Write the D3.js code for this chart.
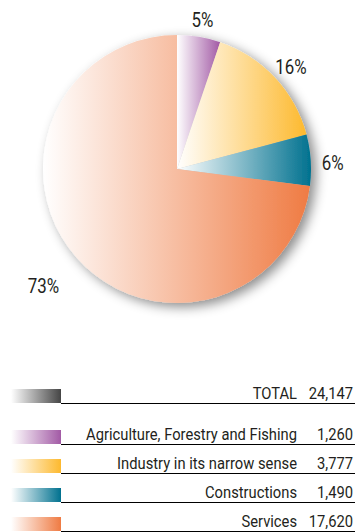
<!DOCTYPE html>
<html>
<head>
<meta charset="utf-8">
<script src="https://cdn.jsdelivr.net/npm/d3@7"></script>
<style>
  body { margin: 0; background: #fff; }
  text { font-family: Roboto, "DejaVu Sans Condensed", sans-serif; fill: #231f20; }
</style>
</head>
<body>
<div id="chart"></div>
<script>
// Employment by sector (thousands)
const sectors = ["Agriculture, Forestry and Fishing", "Industry in its narrow sense", "Constructions", "Services"];
const employed = [1260, 3777, 1490, 17620];
const totalLabel = "TOTAL";
const totalValue = 24147;
const colors = ["#a25aa5", "#fdb92e", "#00718f", "#ef7b43"];
const totalColor = "#454545";

const width = 359, height = 532;
const cx = 177, cy = 169, radius = 134;

const svg = d3.select("#chart").append("svg")
    .attr("width", width)
    .attr("height", height);

const defs = svg.append("defs");

// The original uses a condensed face, so we squeeze the text horizontally.
// We measure the longest legend label and scale it to the width it has in the picture
const probe = svg.append("text").attr("font-size", 17).text(sectors[0]);
const squeeze = 211 / probe.node().getComputedTextLength();
probe.remove();

// soft shadow behind the pie
const shadow = defs.append("filter").attr("id", "shadow")
    .attr("x", "-20%").attr("y", "-20%").attr("width", "140%").attr("height", "140%");
shadow.append("feDropShadow")
    .attr("dx", 5).attr("dy", 4).attr("stdDeviation", 6)
    .attr("flood-color", "#000").attr("flood-opacity", 0.45);

// one white-to-colour gradient per series
function addGradient(id, color) {
    const g = defs.append("linearGradient").attr("id", id)
        .attr("x1", 0).attr("x2", 1).attr("y1", 0).attr("y2", 0);
    g.append("stop").attr("offset", 0).attr("stop-color", "#fff");
    g.append("stop").attr("offset", 1).attr("stop-color", color);
}
colors.forEach((c, i) => addGradient("grad" + i, c));
addGradient("gradTotal", totalColor);

// pie
const pie = d3.pie().sort(null).value(d => d);
const arcs = pie(employed);
const arc = d3.arc().innerRadius(0).outerRadius(radius);

const pieG = svg.append("g")
    .attr("transform", `translate(${cx},${cy})`);

pieG.append("g")
    .attr("filter", "url(#shadow)")
    .selectAll("path")
    .data(arcs)
    .enter()
    .append("path")
    .attr("d", arc)
    .attr("fill", (d, i) => `url(#grad${i})`);

// percentage labels
const labelArc = d3.arc().innerRadius(156).outerRadius(156);
const bigLabelArc = d3.arc().innerRadius(178).outerRadius(178);
pieG.selectAll(".pct")
    .data(arcs)
    .enter()
    .append("text")
    .attr("class", "pct")
    .attr("transform", d => {
        const big = (d.endAngle - d.startAngle) > Math.PI;
        const [x, y] = (big ? bigLabelArc : labelArc).centroid(d);
        return `translate(${x},${big ? y : y + 5}) scale(${squeeze},1)`;
    })
    .attr("text-anchor", "middle")
    .attr("dy", "0.35em")
    .attr("font-size", 19.5)
    .text(d => Math.round(d.value / totalValue * 100) + "%");

// legend
const rows = [{ label: totalLabel, value: totalValue, fill: "url(#gradTotal)" }]
    .concat(sectors.map((s, i) => ({ label: s, value: employed[i], fill: `url(#grad${i})` })));

const rowY = i => i === 0 ? 403 : 415 + i * 29;
const fmt = d3.format(",");

const legend = svg.append("g");
const row = legend.selectAll(".row")
    .data(rows)
    .enter()
    .append("g")
    .attr("transform", (d, i) => `translate(0,${rowY(i)})`);

row.append("rect")
    .attr("x", 11).attr("y", -14)
    .attr("width", 50).attr("height", 14)
    .attr("fill", d => d.fill);

row.append("line")
    .attr("x1", 61).attr("x2", 355)
    .attr("y1", 0.5).attr("y2", 0.5)
    .attr("stroke", "#000").attr("stroke-width", 1);

row.append("text")
    .attr("transform", `translate(297,-4) scale(${squeeze},1)`)
    .attr("text-anchor", "end")
    .attr("font-size", 17)
    .text(d => d.label);

row.append("text")
    .attr("transform", `translate(353,-4) scale(${squeeze},1)`)
    .attr("text-anchor", "end")
    .attr("font-size", 17)
    .text(d => fmt(d.value));
</script>
</body>
</html>
